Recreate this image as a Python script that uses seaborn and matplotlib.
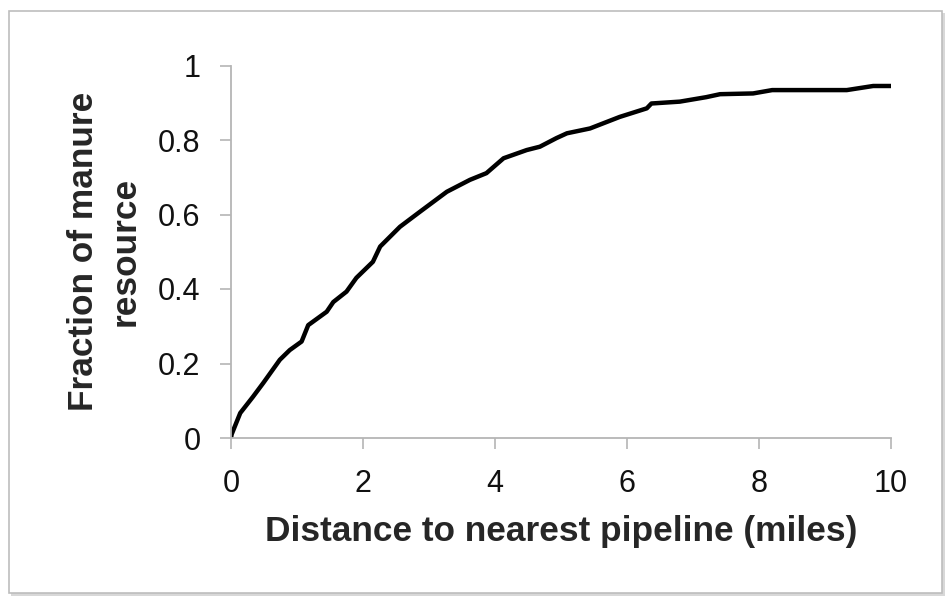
import matplotlib
matplotlib.use("Agg")
import matplotlib.pyplot as plt
import matplotlib.patches as mpatches
import seaborn as sns
import pandas as pd

distance_miles = [0.0, 0.01, 0.14, 0.33, 0.49, 0.74, 0.89, 1.07, 1.17, 1.45, 1.55, 1.75, 1.9,
                  2.15, 2.26, 2.56, 2.86, 3.27, 3.62, 3.87, 4.13, 4.48, 4.68, 4.93, 5.09,
                  5.44, 5.89, 6.3, 6.37, 6.8, 7.2, 7.41, 7.91, 8.2, 9.33, 9.73, 10.0]
fraction = [0.0, 0.01, 0.067, 0.11, 0.148, 0.21, 0.236, 0.259, 0.303, 0.339, 0.365, 0.393, 0.43,
            0.473, 0.514, 0.567, 0.607, 0.661, 0.693, 0.711, 0.751, 0.773, 0.782, 0.805, 0.818,
            0.831, 0.862, 0.885, 0.898, 0.903, 0.915, 0.923, 0.925, 0.934, 0.934, 0.945, 0.945]
x_ticks = [0, 2, 4, 6, 8, 10]
y_ticks = [0, 0.2, 0.4, 0.6, 0.8, 1]
y_tick_labels = ["0", "0.2", "0.4", "0.6", "0.8", "1"]

df = pd.DataFrame({"distance": distance_miles, "fraction": fraction})

sns.set_style("ticks")
plt.rcParams["font.family"] = ["Liberation Sans", "DejaVu Sans"]

fig = plt.figure(figsize=(9.48, 5.97), dpi=100)
fig.patch.set_facecolor("white")

# frame with shadow
shadow = mpatches.Rectangle((11 / 948, 1 - 596 / 597), 934 / 948, 583 / 597,
                            transform=fig.transFigure, facecolor="#d8d8d8",
                            edgecolor="none", zorder=-2)
frame = mpatches.Rectangle((9 / 948, 1 - 593 / 597), 933 / 948, 582 / 597,
                           transform=fig.transFigure, facecolor="white",
                           edgecolor="#bdbdbd", linewidth=1.2, zorder=-1)
fig.patches.extend([shadow, frame])

ax = fig.add_axes([231 / 948, 1 - 438 / 597, 660 / 948, 372.5 / 597])
ax.set_facecolor("none")
sns.lineplot(data=df, x="distance", y="fraction", ax=ax, color="black",
             linewidth=3.2, estimator=None, sort=False)

ax.set_xlim(0, 10)
ax.set_ylim(0, 1)
ax.set_xticks(x_ticks)
ax.set_xticklabels([str(v) for v in x_ticks])
ax.set_yticks(y_ticks)
ax.set_yticklabels(y_tick_labels)
ax.tick_params(axis="both", direction="out", length=8, width=1.2, color="#b5b5b5",
               labelsize=22, labelcolor="#111111", pad=14)

for side in ["top", "right"]:
    ax.spines[side].set_visible(False)
for side in ["left", "bottom"]:
    ax.spines[side].set_color("#b5b5b5")
    ax.spines[side].set_linewidth(1.3)

ax.set_xlabel("Distance to nearest pipeline (miles)", fontsize=25.4, fontweight="bold",
              labelpad=12)
ax.set_ylabel("Fraction of manure\nresource", fontsize=25.4, fontweight="bold",
              labelpad=12, linespacing=1.3)

fig.savefig("out.png", dpi=100)
